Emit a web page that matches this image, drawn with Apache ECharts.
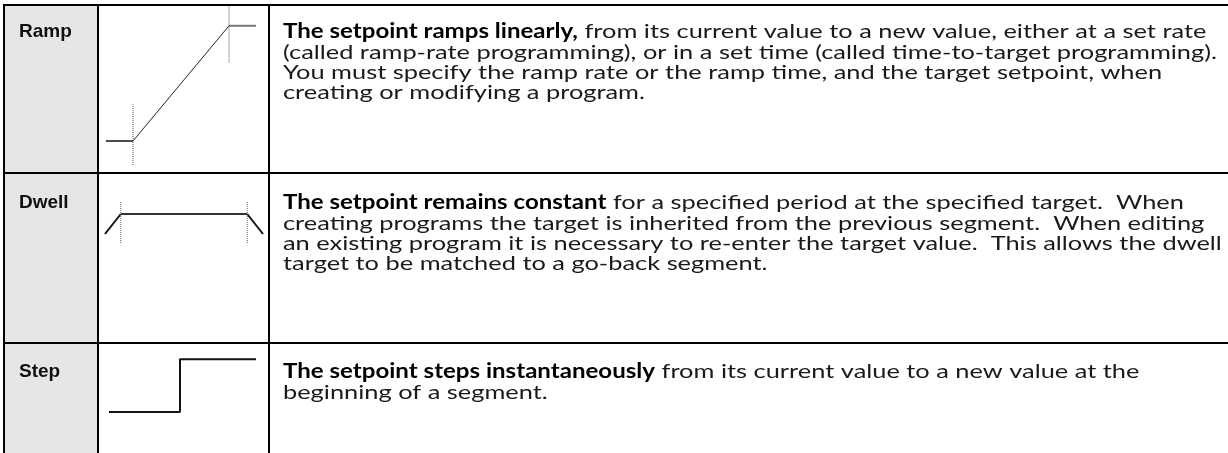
<!DOCTYPE html>
<html>
<head>
<meta charset="utf-8">
<script src="https://cdn.jsdelivr.net/npm/echarts@6/dist/echarts.min.js"></script>
<style>
html,body{margin:0;padding:0;background:#fff;}
#chart{width:1228px;height:453px;}
</style>
</head>
<body>
<div id="chart"></div>
<script>
// ---- data ----
const rowLabels = ['Ramp', 'Dwell', 'Step'];
const descBold = ['The setpoint ramps linearly,', 'The setpoint remains constant', 'The setpoint steps instantaneously'];
const descLines = [
  [' from its current value to a new value, either at a set rate',
   '(called ramp-rate programming), or in a set time (called time-to-target programming).',
   'You must specify the ramp rate or the ramp time, and the target setpoint, when',
   'creating or modifying a program.'],
  [' for a specified period at the specified target.  When',
   'creating programs the target is inherited from the previous segment.  When editing',
   'an existing program it is necessary to re-enter the target value.  This allows the dwell',
   'target to be matched to a go-back segment.'],
  [' from its current value to a new value at the',
   'beginning of a segment.']
];
// Ramp profile (time, setpoint)
const rampLowX = [0, 1.8];      const rampLowY = [1.5, 1.5];
const rampSlopeX = [1.8, 8.2];  const rampSlopeY = [1.5, 8.7];
const rampHighX = [8.2, 10];    const rampHighY = [8.7, 8.7];
const rampMarkA = [[1.8, 0], [1.8, 3.8]];
const rampMarkB = [[8.2, 6.4], [8.2, 10]];
// Dwell profile
const dwellInX = [0, 1.0];      const dwellInY = [3.2, 7.2];
const dwellFlatX = [1.0, 9.0];  const dwellFlatY = [7.2, 7.2];
const dwellOutX = [9.0, 10];    const dwellOutY = [7.2, 3.2];
const dwellMarkA = [[1.0, 1.4], [1.0, 9.6]];
const dwellMarkB = [[9.0, 1.4], [9.0, 9.6]];
// Step profile
const stepX = [0, 4.83, 4.83, 10];
const stepY = [1.0, 1.0, 7.6, 7.6];

function zip(xs, ys){ return xs.map((x,i)=>[x, ys[i]]); }

const chart = echarts.init(document.getElementById('chart'), null, {renderer:'canvas'});

const grids = [
  {left:106, top:5, width:150, height:160},
  {left:105, top:200, width:158, height:50},
  {left:109, top:340, width:147, height:80}
];
const xAxes = grids.map((g,i)=>({gridIndex:i, type:'value', min:0, max:10, show:false}));
const yAxes = grids.map((g,i)=>({gridIndex:i, type:'value', min:0, max:10, show:false}));

function line(gi, data, color, width, type){
  return {type:'line', xAxisIndex:gi, yAxisIndex:gi, data:data, symbol:'none', silent:true,
    lineStyle:{color:color, width:width, type:type||'solid'}, z:5};
}
const dot = [1, 1];
const series = [
  line(0, zip(rampLowX, rampLowY), '#111', 1.5),
  line(0, zip(rampSlopeX, rampSlopeY), '#222', 1),
  line(0, zip(rampHighX, rampHighY), '#777', 2),
  line(0, rampMarkA, '#555', 1, dot),
  line(0, rampMarkB, '#555', 1, dot),
  line(1, zip(dwellInX, dwellInY), '#111', 2),
  line(1, zip(dwellFlatX, dwellFlatY), '#333', 2),
  line(1, zip(dwellOutX, dwellOutY), '#111', 2),
  line(1, dwellMarkA, '#555', 1, dot),
  line(1, dwellMarkB, '#555', 1, dot),
  line(2, zip(stepX, stepY), '#111', 2)
];

// ---- text fitting (the reference uses a wide geometric face) ----
const FS = 20;
const fontR = FS + 'px Lato, sans-serif';
const fontB = 'bold ' + FS + 'px Lato, sans-serif';
const mctx = document.createElement('canvas').getContext('2d');
function measure(t, f){ mctx.font = f; return mctx.measureText(t).width; }
const textLeft = 283;
const sxB = (655 - textLeft) / measure(descBold[2], fontB);
const sxR = (1217 - textLeft) / measure(descLines[0][1], fontR);

const firstLineY = [32, 203, 372];
const lineGap = 20.3;
const graphic = [];
graphic.push({type:'rect', shape:{x:4, y:5, width:94, height:460}, style:{fill:'#e6e6e6'}, z:0});
const blk = {stroke:'#000', lineWidth:2};
[5, 173, 343].forEach(y=>graphic.push({type:'line', shape:{x1:3, y1:y, x2:1228, y2:y}, style:blk, z:10}));
[4, 98, 269].forEach(x=>graphic.push({type:'line', shape:{x1:x, y1:4, x2:x, y2:460}, style:blk, z:10}));

rowLabels.forEach((lab,i)=>{
  graphic.push({type:'text', x:19, y:firstLineY[i], z:20, style:{text:lab, fill:'#111',
    font:'bold 19px "Liberation Sans", Arial, sans-serif', verticalAlign:'middle', align:'left'}});
});
descLines.forEach((lines,i)=>{
  lines.forEach((t,j)=>{
    const y = firstLineY[i] + j*lineGap;
    let x = textLeft;
    if (j === 0) {
      graphic.push({type:'text', x:x, y:y, scaleX:sxB, z:20, style:{text:descBold[i], font:fontB,
        fill:'#000', verticalAlign:'middle', align:'left'}});
      x += measure(descBold[i], fontB) * sxB;
    }
    graphic.push({type:'text', x:x, y:y, scaleX:sxR, z:20, style:{text:t, font:fontR,
      fill:'#1a1a1a', verticalAlign:'middle', align:'left'}});
  });
});

chart.setOption({
  animation:false,
  grid:grids,
  xAxis:xAxes,
  yAxis:yAxes,
  series:series,
  graphic:graphic
});
</script>
</body>
</html>
